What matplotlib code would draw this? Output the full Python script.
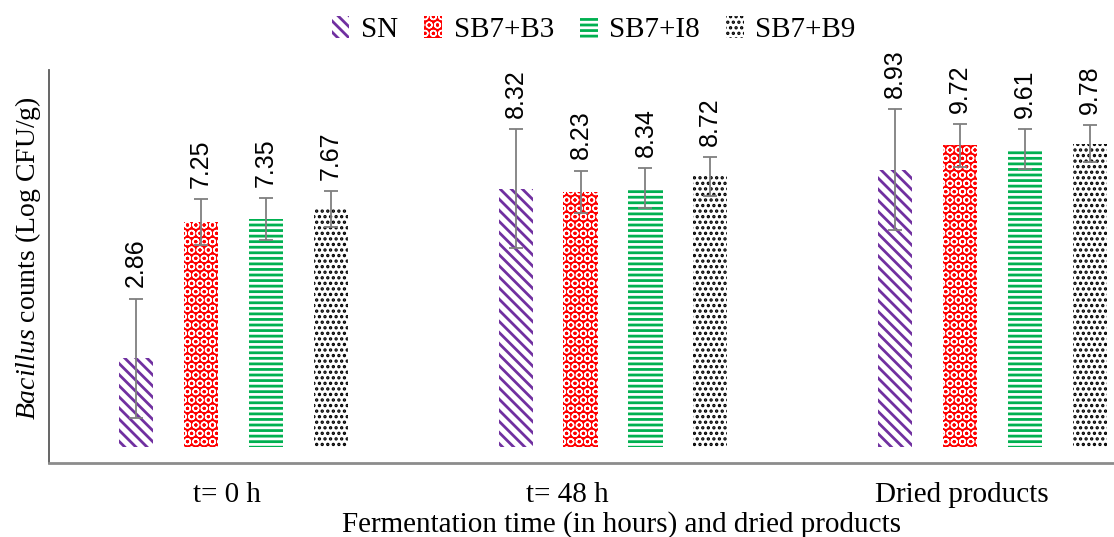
import numpy as np
import matplotlib
matplotlib.use("Agg")
import matplotlib.pyplot as plt
from matplotlib.patches import Patch

plt.rcParams['hatch.linewidth'] = 2.0
plt.rcParams['mathtext.fontset'] = 'custom'
plt.rcParams['mathtext.it'] = 'Liberation Serif:italic'
plt.rcParams['mathtext.rm'] = 'Liberation Serif'

groups = ["t= 0 h", "t= 48 h", "Dried products"]
series = ["SN", "SB7+B3", "SB7+I8", "SB7+B9"]
values = {
    "SN":     [2.86, 8.32, 8.93],
    "SB7+B3": [7.25, 8.23, 9.72],
    "SB7+I8": [7.35, 8.34, 9.61],
    "SB7+B9": [7.67, 8.72, 9.78],
}
errors = {
    "SN":     [1.92, 1.92, 1.95],
    "SB7+B3": [0.75, 0.68, 0.70],
    "SB7+I8": [0.68, 0.65, 0.65],
    "SB7+B9": [0.58, 0.62, 0.60],
}
# tick labels in the original sit a bit left of the group centres
tick_shift = [-0.016, -0.12, -0.08]

# style per series: facecolor, hatch colour, hatch, hatch linewidth
styles = {
    "SN":     ("white", "#7030A0", "\\\\\\", 2.0),
    "SB7+B3": ("#FF0000", "white", "OO", 1.0),
    "SB7+I8": ("white", "#00B050", "---", 2.0),
    "SB7+B9": ("white", "black", "...", 1.6),
}

serif = "Liberation Serif"
sans = "Liberation Sans"


def hatch_lw(artist, lw):
    if hasattr(artist, "set_hatch_linewidth"):
        artist.set_hatch_linewidth(lw)


fig = plt.figure(figsize=(11.14, 5.37), dpi=100)
ax = fig.add_axes([0.044, 0.138, 0.956, 0.732])

x = np.arange(len(groups))
width = 0.09
step = 0.171
for i, s in enumerate(series):
    fc, hc, hatch, hl = styles[s]
    pos = x + (i - 1.5) * step
    bars = ax.bar(pos, values[s], width, color=fc, edgecolor=hc, linewidth=0,
                  hatch=hatch, label=s)
    for b in bars:
        hatch_lw(b, hl)
    ax.errorbar(pos, values[s], yerr=errors[s], fmt="none", ecolor="#7f7f7f",
                elinewidth=1.3, capsize=5, capthick=1.3)
    for p, v, e in zip(pos, values[s], errors[s]):
        ax.annotate(f"{v:.2f}", (p, v + e), xytext=(0, 8), textcoords="offset points",
                    rotation=90, ha="center", va="bottom", fontsize=18,
                    family=sans)

ax.set_xlim(-0.486, 2.32)
ax.set_ylim(-0.52, 12.16)
ax.set_yticks([])
ax.set_xticks(x + np.array(tick_shift))
ax.set_xticklabels(groups, fontsize=21, family=serif)
ax.tick_params(axis="x", length=0, pad=14)

for side in ["top", "right"]:
    ax.spines[side].set_visible(False)
ax.spines["left"].set_color("#595959")
ax.spines["bottom"].set_color("#8c8c8c")
ax.spines["left"].set_linewidth(1.3)
ax.spines["bottom"].set_linewidth(2)

ax.set_xlabel("Fermentation time (in hours) and dried products", fontsize=21,
              family=serif)
ax.xaxis.set_label_coords(0.538, -0.122)
ax.set_ylabel("$\\it{Bacillus}$ counts (Log CFU/g)", fontsize=20, family=serif)
ax.yaxis.set_label_coords(-0.006, 0.52)

handles = []
for s in series:
    fc, hc, hatch, hl = styles[s]
    h = Patch(facecolor=fc, edgecolor=hc, hatch=hatch, linewidth=0, label=s)
    hatch_lw(h, hl)
    handles.append(h)
leg = fig.legend(handles=handles, loc="upper center", bbox_to_anchor=(0.533, 1.02),
                 ncol=4, frameon=False, prop={"family": serif, "size": 21},
                 handlelength=0.6, handleheight=0.8, handletextpad=0.4,
                 columnspacing=0.9)
for patch, s in zip(leg.get_patches(), series):
    hatch_lw(patch, styles[s][3])

fig.savefig("out.png", dpi=100)
